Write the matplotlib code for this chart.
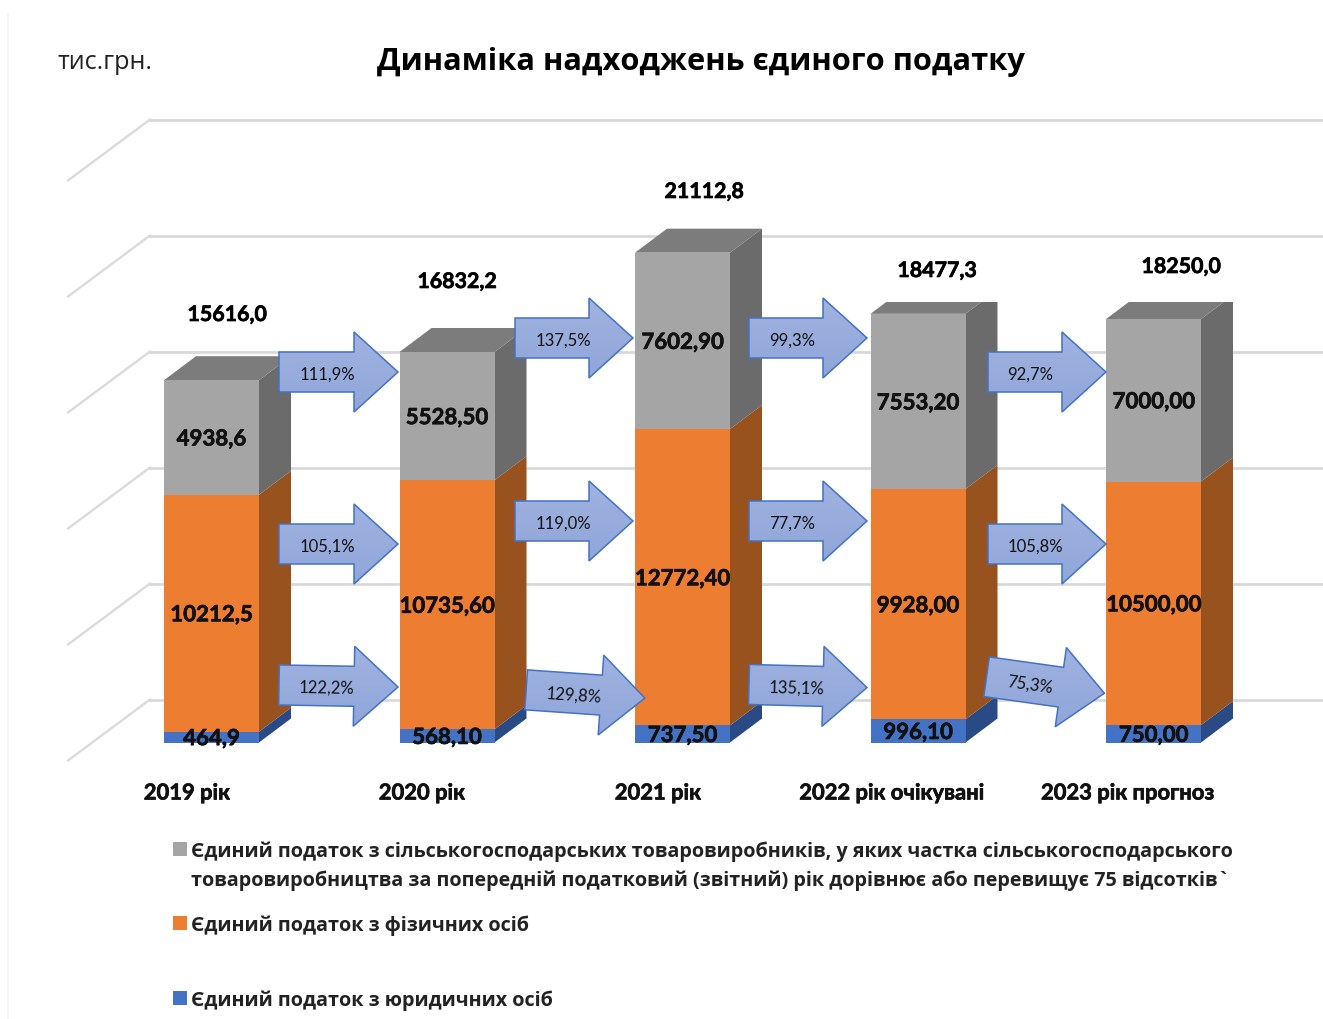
import matplotlib
matplotlib.use('Agg')
import matplotlib.pyplot as plt
import matplotlib.patheffects as pe
import numpy as np
from matplotlib.colors import LinearSegmentedColormap
from matplotlib.patches import Polygon, Rectangle
from matplotlib.transforms import Affine2D

years = ['2019 рік', '2020 рік', '2021 рік', '2022 рік очікувані', '2023 рік прогноз']
legal = [464.9, 568.1, 737.5, 996.1, 750.0]
physical = [10212.5, 10735.6, 12772.4, 9928.0, 10500.0]
agri = [4938.6, 5528.5, 7602.9, 7553.2, 7000.0]
totals = ['15616,0', '16832,2', '21112,8', '18477,3', '18250,0']
legal_labels = ['464,9', '568,10', '737,50', '996,10', '750,00']
physical_labels = ['10212,5', '10735,60', '12772,40', '9928,00', '10500,00']
agri_labels = ['4938,6', '5528,50', '7602,90', '7553,20', '7000,00']
grid_values = [0, 5000, 10000, 15000, 20000, 25000]

pct_top = ['111,9%', '137,5%', '99,3%', '92,7%']
pct_mid = ['105,1%', '119,0%', '77,7%', '105,8%']
pct_low = ['122,2%', '129,8%', '135,1%', '75,3%']

# pixel layout of the picture
W, H = 1323, 1020
PX_PER_UNIT = 0.0232
Y_ZERO = 743.5
X_FIRST = 211.5
X_STEP = 235.5
BAR_W = 95 / X_STEP
DEPTH_X = 32 / X_STEP
DEPTH_Y = 24 / PX_PER_UNIT
WALL_Y = 43 / PX_PER_UNIT
CLIP_TOP = 303  # the last two bars are cut flat at this height in the original

fig = plt.figure(figsize=(W / 100, H / 100), dpi=100)
ax = fig.add_axes([0, 0, 1, 1])
ax.set_xlim(-X_FIRST / X_STEP, (W - X_FIRST) / X_STEP)
ax.set_ylim((Y_ZERO - H) / PX_PER_UNIT, Y_ZERO / PX_PER_UNIT)
ax.axis('off')

# picture pixels, y going down
pix = Affine2D().scale(1, -1).translate(0, H)

LABEL_FONT = 'Lato'
TEXT_FONT = 'Open Sans'
heavy = [pe.withStroke(linewidth=0.5, foreground='#111111')]


def clip_bar(artist, i):
    if i >= 3:
        artist.set_clip_path(Rectangle((0, CLIP_TOP), W, H - CLIP_TOP, transform=pix))


ax.plot([8, 8], [15, H], color='#f2f2f2', lw=1.2, transform=pix, zorder=0)

# back wall grid lines and their part on the side wall
x_back = (150 - X_FIRST) / X_STEP
x_side = (68 - X_FIRST) / X_STEP
for v in grid_values:
    back = v + WALL_Y
    ax.plot([x_back, (W - X_FIRST) / X_STEP], [back, back], color='#d9d9d9', lw=2, zorder=1)
    ax.plot([x_side, x_back], [back - 61 / PX_PER_UNIT, back], color='#d9d9d9', lw=1.6, zorder=1)

xs = np.arange(len(years))
series = [
    (legal, '#4472c4', '#2a4a85', legal_labels),
    (physical, '#ed7d31', '#97521e', physical_labels),
    (agri, '#a5a5a5', '#6b6b6b', agri_labels),
]
bottom = np.zeros(len(years))
for values, front, side, labels in series:
    values = np.array(values)
    ax.bar(xs, values, BAR_W, bottom=bottom, color=front, linewidth=0, zorder=3)
    for i in xs:
        right = i + BAR_W / 2
        y0 = bottom[i]
        y1 = y0 + values[i]
        poly = ax.fill([right, right + DEPTH_X, right + DEPTH_X, right],
                       [y0, y0 + DEPTH_Y, y1 + DEPTH_Y, y1], color=side, lw=0, zorder=2)[0]
        clip_bar(poly, i)
        ax.text(i, y0 + values[i] / 2 - 1.5 / PX_PER_UNIT, labels[i], ha='center', va='center',
                fontsize=16, fontweight='bold', family=LABEL_FONT, color='#111111', zorder=4,
                path_effects=heavy)
    bottom = bottom + values

# top faces
for i in xs:
    left = i - BAR_W / 2
    right = i + BAR_W / 2
    poly = ax.fill([left, right, right + DEPTH_X, left + DEPTH_X],
                   [bottom[i], bottom[i], bottom[i] + DEPTH_Y, bottom[i] + DEPTH_Y],
                   color='#7c7c7c', lw=0, zorder=2)[0]
    clip_bar(poly, i)

total_x = [227, 457, 704, 937, 1181]
total_y = [316, 283, 193, 272, 268]
for x, y, t in zip(total_x, total_y, totals):
    ax.text(x, y, t, transform=pix, ha='center', va='center', fontsize=15.4,
            fontweight='bold', family=LABEL_FONT, color='black', path_effects=heavy)

year_x = [187, 422, 658, 892, 1128]
for x, t in zip(year_x, years):
    ax.text(x, 794, t, transform=pix, ha='center', va='center', fontsize=15.8,
            fontweight='bold', family=LABEL_FONT, color='#111111', path_effects=heavy)

arrow_cmap = LinearSegmentedColormap.from_list('arrow', ['#a2b4e1', '#8ea5d9'])


def block_arrow(left, cy, tip, angle, label, label_x):
    length = tip - left
    mid = left + length / 2
    head = tip - 44
    pts = np.array([[left, cy - 20], [head, cy - 20], [head, cy - 40], [tip, cy],
                    [head, cy + 40], [head, cy + 20], [left, cy + 20]], dtype=float)
    rad = np.radians(angle)
    dx = pts[:, 0] - mid
    dy = pts[:, 1] - cy
    pts = np.column_stack([mid + dx * np.cos(rad) - dy * np.sin(rad),
                           cy + dx * np.sin(rad) + dy * np.cos(rad)])
    patch = Polygon(pts, closed=True, facecolor='none', edgecolor='#4472c4', lw=1.1,
                    transform=pix, zorder=6)
    ax.add_patch(patch)
    grad = np.linspace(0, 1, 64).reshape(-1, 1)
    img = ax.imshow(grad, cmap=arrow_cmap, aspect='auto', zorder=5, interpolation='bilinear',
                    extent=(left - 5, tip + 5, H - cy - 50, H - cy + 50),
                    origin='upper', transform=Affine2D())
    img.set_clip_path(Polygon(pts, closed=True, transform=pix))
    label_y = cy + 1.5 + (label_x - mid) * np.sin(rad)
    ax.text(label_x, label_y, label, transform=pix, rotation=-angle, rotation_mode='anchor',
            ha='center', va='center', fontsize=12, family=LABEL_FONT, color='#111111', zorder=7)


xlim_keep = ax.get_xlim()
ylim_keep = ax.get_ylim()
for left, cy, tip, lx, t in zip([279, 515, 749, 988], [373, 339, 339, 373],
                                [398, 633, 867, 1106], [327, 563, 792, 1030], pct_top):
    block_arrow(left, cy, tip, 0, t, lx)
for left, cy, tip, lx, t in zip([279, 515, 749, 988], [545, 522, 522, 545],
                                [398, 633, 867, 1106], [327, 563, 792, 1035], pct_mid):
    block_arrow(left, cy, tip, 0, t, lx)
for left, cy, tip, ang, lx, t in zip([279, 526, 749, 986], [687, 695, 687, 686],
                                     [398, 645, 867, 1105], [1, 4, 1.5, 8],
                                     [327, 574, 797, 1030], pct_low):
    block_arrow(left, cy, tip, ang, t, lx)
ax.set_xlim(xlim_keep)
ax.set_ylim(ylim_keep)

ax.text(701, 62.5, 'Динаміка надходжень єдиного податку', transform=pix, ha='center', va='center',
        fontsize=22.2, fontweight='bold', family=TEXT_FONT, color='black')
ax.text(57, 63, 'тис.грн.', transform=pix, ha='left', va='center', fontsize=18.1,
        family=TEXT_FONT, color='#222222')

legend_rows = [
    ('#a5a5a5', 850, ['Єдиний податок з сільськогосподарських товаровиробників, у яких частка сільськогосподарського',
                      'товаровиробництва за попередній податковий (звітний) рік дорівнює або перевищує 75 відсотків`']),
    ('#ed7d31', 924, ['Єдиний податок з фізичних осіб']),
    ('#4472c4', 999, ['Єдиний податок з юридичних осіб']),
]
for color, y, lines in legend_rows:
    ax.add_patch(Rectangle((173, y - 7), 14, 14, facecolor=color, lw=0, transform=pix))
    for k, line in enumerate(lines):
        ax.text(191, y + 2 + 29 * k, line, transform=pix, ha='left', va='center', fontsize=14.2,
                fontweight='bold', family=TEXT_FONT, color='#222222')

fig.savefig('out.png', dpi=100)
